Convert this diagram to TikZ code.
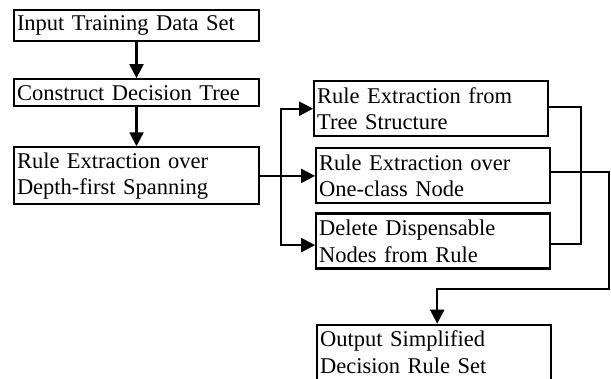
\documentclass[tikz,border=0pt]{standalone}
\usepackage{fontspec}
\setmainfont{Liberation Serif}
\usetikzlibrary{arrows.meta, positioning}

\begin{document}
\begin{tikzpicture}[
        box/.style={rectangle, draw, line width=2.2pt, text width=239pt, inner xsep=3pt, inner ysep=1pt, align=left, font=\fontsize{22.5}{26.5}\selectfont},
        sidebox/.style={box, text width=228pt, minimum height=55pt},
        arr/.style={-{Triangle[length=14pt, width=14pt]}, line width=2.2pt},
        line/.style={line width=2.2pt},
        node distance=36pt
        ]
        \useasboundingbox (0pt,0pt) rectangle (611pt,-379pt);
        \node[box, minimum height=31pt] (input) at (136.5pt,-25.5pt) {Input Training Data Set};
        \node[box, minimum height=27pt, below=of input] (construct) {Construct Decision Tree};
        \node[box, minimum height=57pt, below=39pt of construct] (depth) {Rule Extraction over\\Depth-first Spanning};
        \node[sidebox, right=55pt of depth] (oneclass) {Rule Extraction over\\One-class Node};
        \node[sidebox, above=10pt of oneclass, xshift=-2pt] (tree) {Rule Extraction from\\Tree Structure};
        \node[sidebox, below=8pt of oneclass] (delete) {Delete Dispensable\\Nodes from Rule};
        \node[sidebox, text height=21pt, text depth=35pt, below=54pt of delete, xshift=1pt] (output) {Output Simplified\\Decision Rule Set};
        \coordinate (split) at ([xshift=21pt]depth.east);
        \coordinate (merge) at ([xshift=32pt]tree.east);
        \coordinate (bend) at ([xshift=3pt, yshift=35pt]output.north);
        \draw[arr] (input) -- (construct);
        \draw[arr] (construct) -- (depth);
        \draw[arr] (depth.east) -- (oneclass.west);
        \draw[arr] (split) |- (tree.west);
        \draw[arr] (split) |- ([yshift=-4pt]delete.west);
        \draw[line] ([yshift=2pt]tree.east) -| (merge) |- ([yshift=-3pt]delete.east);
        \draw[arr] ([yshift=4pt]oneclass.east) -- ++(58pt,0) |- (bend) -- ([xshift=3pt]output.north);
    \end{tikzpicture}
\end{document}
